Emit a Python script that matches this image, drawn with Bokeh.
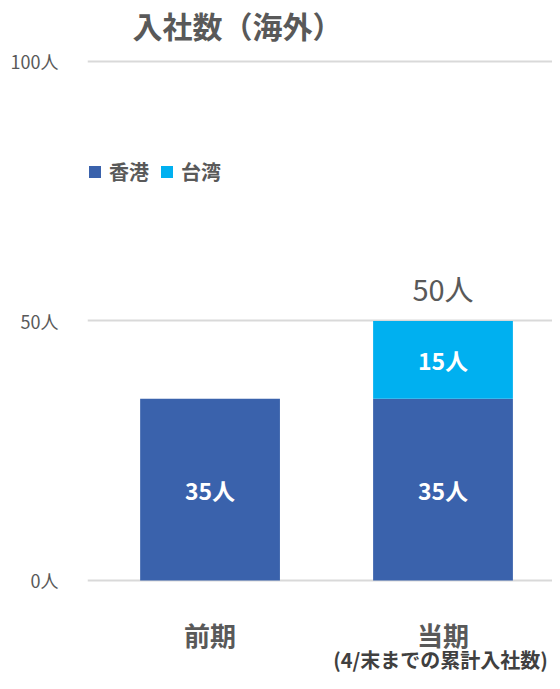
from bokeh.plotting import figure
from bokeh.models import ColumnDataSource, Label, Legend, LegendItem, FixedTicker, Range1d
from bokeh.core.properties import value
from bokeh.embed import file_html
from bokeh.resources import INLINE

categories = ["前期", "当期"]
hongkong = [35, 35]
taiwan = [0, 15]
series_names = ["香港", "台湾"]
colors = ["#3A62AC", "#00B0F0"]
y_ticks = [0, 50, 100]
tick_labels = {0: "0人", 50: "50人", 100: "100人"}
title_text = "入社数（海外）"
note_text = "(4/末までの累計入社数)"

FONT = "Noto Sans CJK JP"
GRAY = "#595959"

xs = list(range(len(categories)))
totals = [a + b for a, b in zip(hongkong, taiwan)]

p = figure(width=552, height=673, output_backend="svg", toolbar_location=None,
           x_range=Range1d(-0.526, 1.47), y_range=Range1d(-17.92, 111.75),
           x_axis_location=None, min_border_left=87, min_border_right=0,
           min_border_top=0, min_border_bottom=0)
p.outline_line_color = None
p.background_fill_color = "white"
p.border_fill_color = "white"

yax = p.yaxis[0]
yax.ticker = FixedTicker(ticks=y_ticks)
yax.major_label_overrides = tick_labels
yax.axis_line_color = None
yax.major_tick_line_color = None
yax.minor_tick_line_color = None
yax.major_label_standoff = 23
yax.major_label_text_font = FONT
yax.major_label_text_font_size = "18px"
yax.major_label_text_color = GRAY
p.ygrid.ticker = FixedTicker(ticks=y_ticks)
p.ygrid.grid_line_color = "#D9D9D9"
p.ygrid.grid_line_width = 2
p.xgrid.grid_line_color = None

src = ColumnDataSource(dict(x=xs, hk=hongkong, tw=taiwan, total=totals,
                            hk_mid=[v / 2 for v in hongkong],
                            tw_mid=[a + b / 2 for a, b in zip(hongkong, taiwan)],
                            hk_lab=[f"{v}人" for v in hongkong],
                            tw_lab=[f"{v}人" if v else "" for v in taiwan],
                            tot_lab=[f"{t}人" if b else "" for t, b in zip(totals, taiwan)],
                            cat=categories))

r_hk = p.vbar(x="x", bottom=0, top="hk", width=0.6, source=src, fill_color=colors[0], line_color=None)
r_tw = p.vbar(x="x", bottom="hk", top="total", width=0.6, source=src, fill_color=colors[1], line_color=None)

p.text(x="x", y="hk_mid", text="hk_lab", source=src, text_align="center", text_baseline="middle",
       text_color="white", text_font=value(FONT), text_font_size="23px", text_font_style="bold")
p.text(x="x", y="tw_mid", text="tw_lab", source=src, text_align="center", text_baseline="middle",
       text_color="white", text_font=value(FONT), text_font_size="23px", text_font_style="bold")
p.text(x="x", y="total", text="tot_lab", source=src, text_align="center", text_baseline="bottom",
       y_offset=-12, text_color=GRAY, text_font=value(FONT), text_font_size="29px")

p.text(x="x", y=-10.4, text="cat", source=src, text_align="center", text_baseline="middle",
       text_color=GRAY, text_font=value(FONT), text_font_size="26px", text_font_style="bold")

p.add_layout(Label(x=1.45, y=-15.2, text=note_text, text_align="right", text_baseline="middle",
                   text_color="#404040", text_font=FONT, text_font_size="20px", text_font_style="bold"))
p.add_layout(Label(x=0.118, y=107.0, text=title_text, text_align="center", text_baseline="middle",
                   text_color=GRAY, text_font=FONT, text_font_size="30px", text_font_style="bold"))

legend = Legend(items=[LegendItem(label=series_names[0], renderers=[r_hk]),
                       LegendItem(label=series_names[1], renderers=[r_tw])],
                orientation="horizontal", location=(0, 487), padding=0, margin=0,
                spacing=10, glyph_width=15, glyph_height=15, label_standoff=7,
                label_text_font=FONT, label_text_font_size="20px", label_text_color=GRAY,
                label_text_font_style="bold",
                background_fill_alpha=0, border_line_color=None)
p.add_layout(legend)

open("out.html", "w").write(file_html(p, INLINE))
